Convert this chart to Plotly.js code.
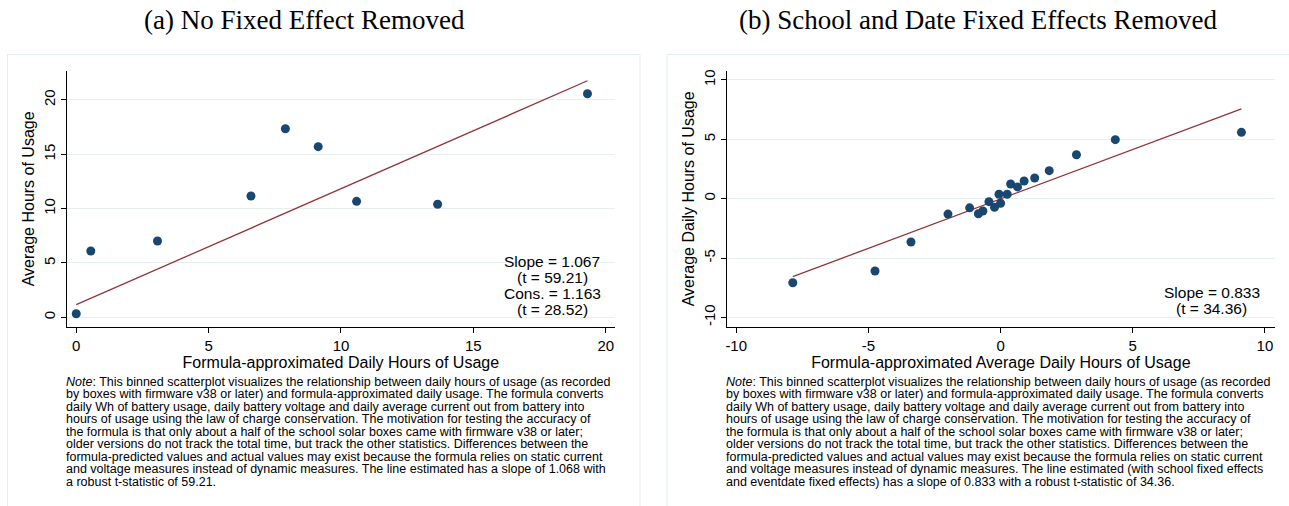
<!DOCTYPE html>
<html>
<head>
<meta charset="utf-8">
<script src="https://cdn.plot.ly/plotly-3.0.1.min.js"></script>
<style>html,body{margin:0;padding:0;background:#fff;}#chart{width:1289px;height:506px;}</style>
</head>
<body>
<div id="chart"></div>
<script>
// ---- Data ----
const panelTitles = ["(a) No Fixed Effect Removed", "(b) School and Date Fixed Effects Removed"];

const xA = [0.0, 0.55, 3.07, 6.6, 7.9, 9.14, 10.59, 13.65, 19.31];
const yA = [0.33, 6.1, 7.02, 11.16, 17.35, 15.7, 10.67, 10.4, 20.57];
const slopeA = 1.067, consA = 1.163;
const statsA = ["Slope = 1.067", "(t = 59.21)", "Cons. = 1.163", "(t = 28.52)"];

const xB = [-7.86, -4.75, -3.39, -1.99, -1.17, -0.84, -0.67, -0.44, -0.23, 0.0, -0.06, 0.25, 0.38, 0.64, 0.89, 1.29, 1.84, 2.87, 4.34, 9.11];
const yB = [-7.08, -6.09, -3.65, -1.3, -0.77, -1.27, -1.04, -0.25, -0.73, -0.39, 0.37, 0.37, 1.24, 0.99, 1.49, 1.74, 2.36, 3.7, 4.97, 5.59];
const slopeB = 0.833, consB = -0.02;
const statsB = ["Slope = 0.833", "(t = 34.36)"];

const xTitles = ["Formula-approximated Daily Hours of Usage", "Formula-approximated Average Daily Hours of Usage"];
const yTitles = ["Average Hours of Usage", "Average Daily Hours of Usage"];
const xTicksA = [0, 5, 10, 15, 20], yTicksA = [0, 5, 10, 15, 20];
const xTicksB = [-10, -5, 0, 5, 10], yTicksB = [-10, -5, 0, 5, 10];

const noteA = [
 "<i>Note</i>: This binned scatterplot visualizes the relationship between daily hours of usage (as recorded",
 "by boxes with firmware v38 or later) and formula-approximated daily usage. The formula converts",
 "daily Wh of battery usage, daily battery voltage and daily average current out from battery into",
 "hours of usage using the law of charge conservation. The motivation for testing the accuracy of",
 "the formula is that only about a half of the school solar boxes came with firmware v38 or later;",
 "older versions do not track the total time, but track the other statistics. Differences between the",
 "formula-predicted values and actual values may exist because the formula relies on static current",
 "and voltage measures instead of dynamic measures. The line estimated has a slope of 1.068 with",
 "a robust t-statistic of 59.21."
];
const noteB = [
 "<i>Note</i>: This binned scatterplot visualizes the relationship between daily hours of usage (as recorded",
 "by boxes with firmware v38 or later) and formula-approximated daily usage. The formula converts",
 "daily Wh of battery usage, daily battery voltage and daily average current out from battery into",
 "hours of usage using the law of charge conservation. The motivation for testing the accuracy of",
 "the formula is that only about a half of the school solar boxes came with firmware v38 or later;",
 "older versions do not track the total time, but track the other statistics. Differences between the",
 "formula-predicted values and actual values may exist because the formula relies on static current",
 "and voltage measures instead of dynamic measures. The line estimated (with school fixed effects",
 "and eventdate fixed effects) has a slope of 0.833 with a robust t-statistic of 34.36."
];

// ---- Layout helpers ----
const W = 1289, H = 506;
const px = x => x / W, py = y => 1 - y / H;
const SANS = "Liberation Sans, Arial, sans-serif";
const SERIF = "Liberation Serif, Times New Roman, serif";
const NAVY = "#1a476f", MAROON = "#90353b", GRID = "#e8eff1";

function fitLine(xs, slope, cons, xa, ya) {
  const x0 = Math.min(...xs), x1 = Math.max(...xs);
  return {x: [x0, x1], y: [cons + slope * x0, cons + slope * x1], type: "scatter", mode: "lines",
          line: {color: MAROON, width: 1.3}, xaxis: xa, yaxis: ya, hoverinfo: "skip"};
}
function pts(xs, ys, xa, ya) {
  return {x: xs, y: ys, type: "scatter", mode: "markers",
          marker: {color: NAVY, size: 9, line: {width: 0}}, xaxis: xa, yaxis: ya};
}

const data = [
  fitLine(xA, slopeA, consA, "x", "y"), pts(xA, yA, "x", "y"),
  fitLine(xB, slopeB, consB, "x2", "y2"), pts(xB, yB, "x2", "y2")
];

function xax(domain, range, ticks, title) {
  return {domain, range, tickvals: ticks, ticktext: ticks.map(String), showgrid: false, zeroline: false,
    showline: true, linecolor: "#000", linewidth: 1, ticks: "outside", ticklen: 5, tickcolor: "#000",
    tickfont: {family: SANS, size: 15, color: "#000"},
    title: {text: title, font: {family: SANS, size: 16, color: "#000"}, standoff: 3}, fixedrange: true};
}
function yax(domain, range, ticks, title, anchor) {
  return {domain, range, tickvals: ticks, ticktext: ticks.map(String), showgrid: true, gridcolor: GRID, gridwidth: 1,
    zeroline: false, showline: true, linecolor: "#000", linewidth: 1, ticks: "outside", ticklen: 5, tickcolor: "#000",
    tickangle: -90, tickfont: {family: SANS, size: 15, color: "#000"}, anchor,
    title: {text: title, font: {family: SANS, size: 16, color: "#000"}, standoff: 2}, fixedrange: true};
}

const yDom = [py(327), py(70.7)];
const layout = {
  width: W, height: H, margin: {l: 0, r: 0, t: 0, b: 0}, showlegend: false,
  paper_bgcolor: "#fff", plot_bgcolor: "#fff",
  xaxis: Object.assign(xax([px(66.7), px(615)], [-0.36, 20.35], xTicksA, xTitles[0]), {anchor: "y"}),
  yaxis: yax(yDom, [-0.89, 22.69], yTicksA, yTitles[0], "x"),
  xaxis2: Object.assign(xax([px(726.7), px(1275)], [-10.36, 10.38], xTicksB, xTitles[1]), {anchor: "y2"}),
  yaxis2: yax(yDom, [-10.81, 10.78], yTicksB, yTitles[1], "x2"),
  shapes: [
    {type: "rect", xref: "paper", yref: "paper", x0: px(7.5), x1: px(640), y0: py(510), y1: py(54.5),
     line: {color: "#e3ecef", width: 1}, fillcolor: "rgba(0,0,0,0)", layer: "below"},
    {type: "rect", xref: "paper", yref: "paper", x0: px(667), x1: px(1292), y0: py(510), y1: py(54.5),
     line: {color: "#e3ecef", width: 1}, fillcolor: "rgba(0,0,0,0)", layer: "below"}
  ],
  annotations: []
};

const ann = layout.annotations;
ann.push({text: panelTitles[0], xref: "paper", yref: "paper", x: px(304), y: py(20), xanchor: "center", yanchor: "middle",
  showarrow: false, font: {family: SERIF, size: 27, color: "#000"}});
ann.push({text: panelTitles[1], xref: "paper", yref: "paper", x: px(978), y: py(20), xanchor: "center", yanchor: "middle",
  showarrow: false, font: {family: SERIF, size: 27, color: "#000"}});

statsA.forEach((t, i) => ann.push({text: t, xref: "paper", yref: "paper", x: px(552), y: py(261.7 + 16 * i),
  xanchor: "center", yanchor: "middle", showarrow: false, font: {family: SANS, size: 15.5, color: "#000"}}));
statsB.forEach((t, i) => ann.push({text: t, xref: "paper", yref: "paper", x: px(1211.7), y: py(292.7 + 16 * i),
  xanchor: "center", yanchor: "middle", showarrow: false, font: {family: SANS, size: 15.5, color: "#000"}}));

noteA.forEach((t, i) => ann.push({text: t, xref: "paper", yref: "paper", x: px(64), y: py(381.7 + 12.5 * i),
  xanchor: "left", yanchor: "middle", showarrow: false, font: {family: SANS, size: 12.5, color: "#000"}}));
noteB.forEach((t, i) => ann.push({text: t, xref: "paper", yref: "paper", x: px(724), y: py(381.7 + 12.5 * i),
  xanchor: "left", yanchor: "middle", showarrow: false, font: {family: SANS, size: 12.5, color: "#000"}}));

Plotly.newPlot("chart", data, layout, {displayModeBar: false, staticPlot: true});
</script>
</body>
</html>
